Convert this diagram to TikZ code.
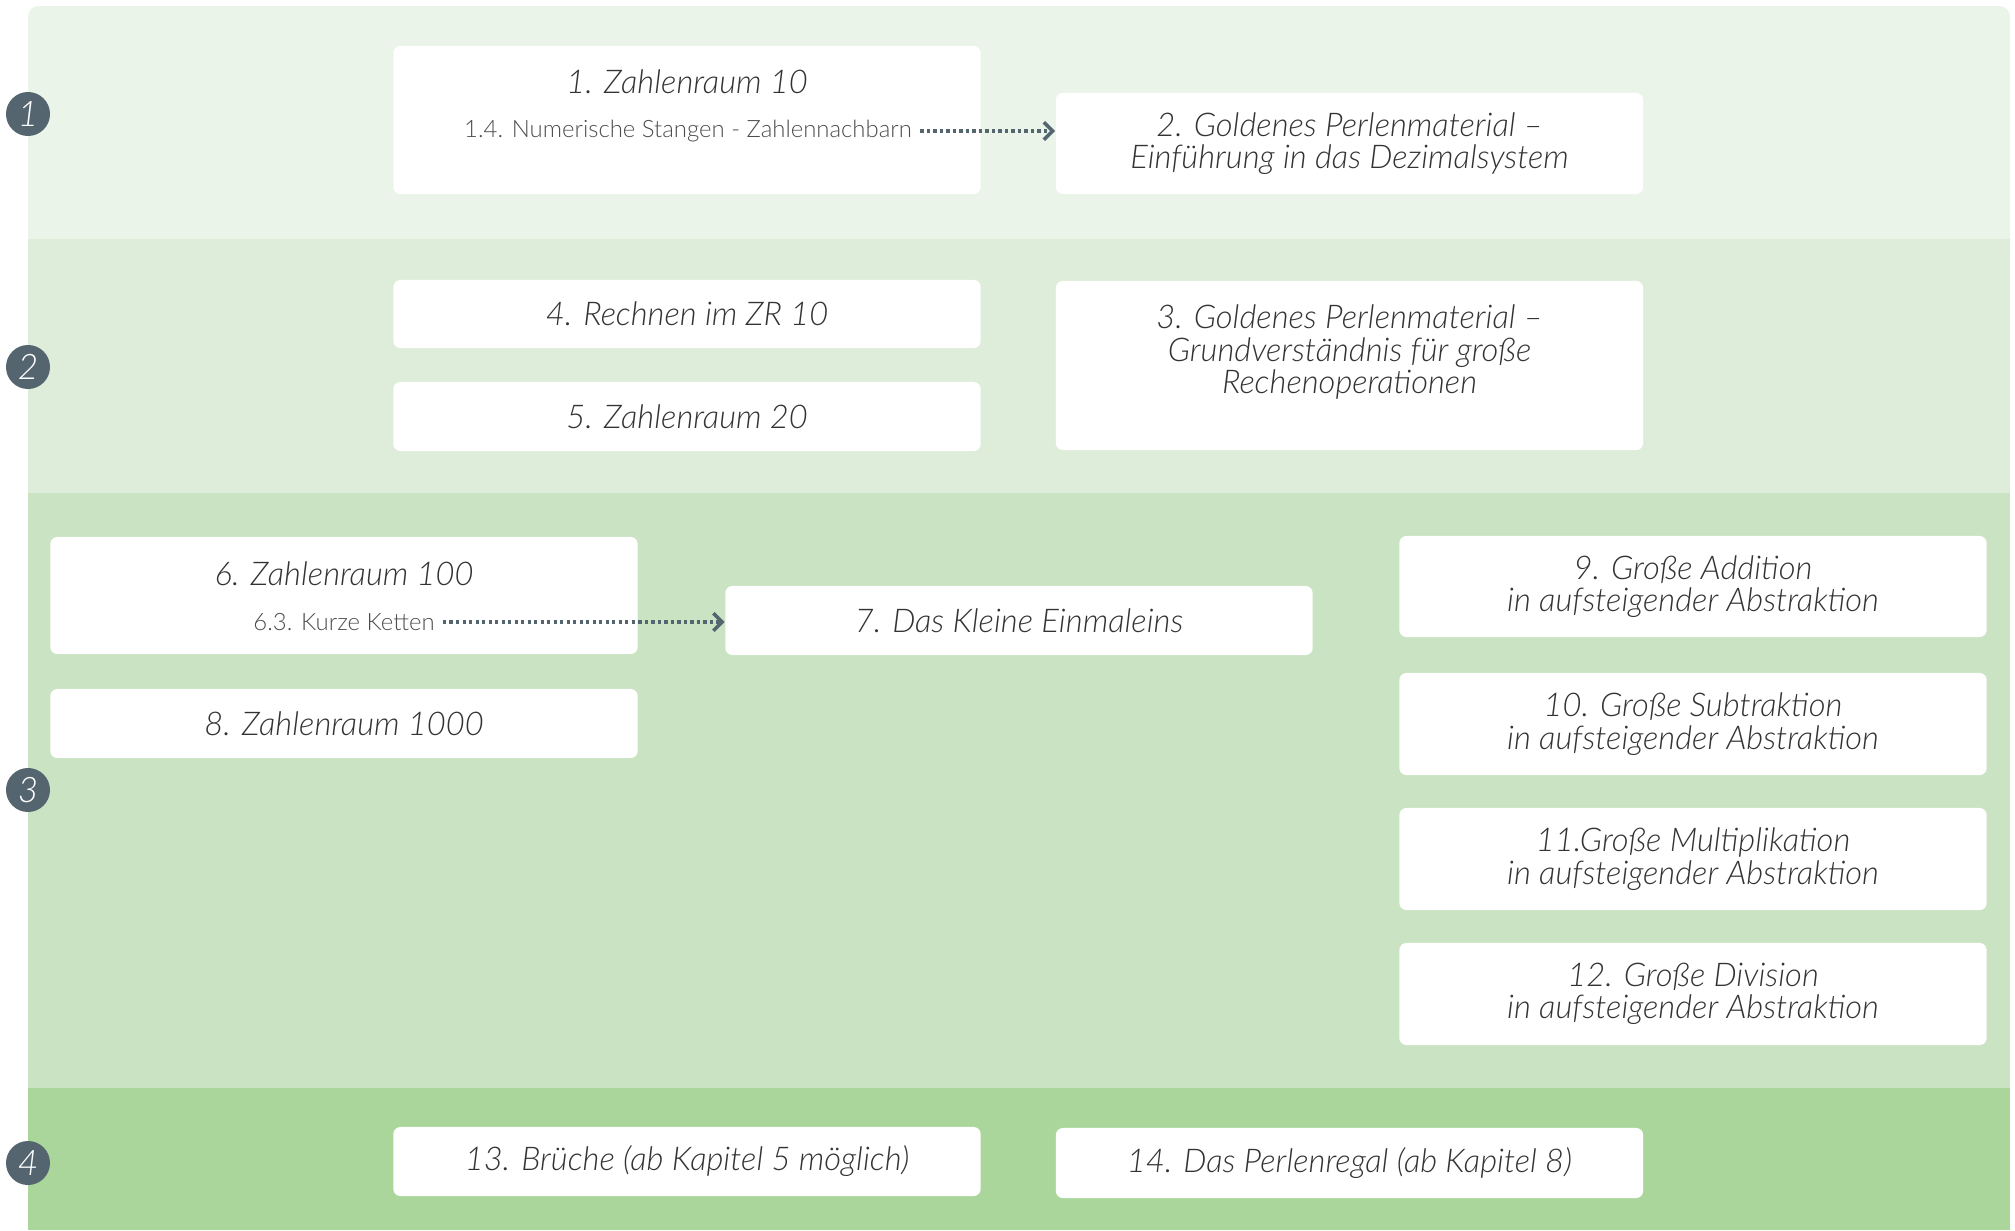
\documentclass[tikz,border=0pt]{standalone}
\usepackage{fontspec}
\setmainfont{Lato}[UprightFont=* Light, ItalicFont=* Light Italic, BoldFont=* Bold]
\usetikzlibrary{arrows.meta}
\definecolor{stufeA}{HTML}{EAF4E8}
\definecolor{stufeB}{HTML}{DEEDD9}
\definecolor{stufeC}{HTML}{CAE3C2}
\definecolor{stufeD}{HTML}{AAD69C}
\definecolor{schiefer}{HTML}{546570}
\definecolor{schrift}{HTML}{333333}
\definecolor{untertext}{HTML}{4D4D4D}
\tikzset{
  kapitel/.style={fill=white,rounded corners=2pt,minimum width=5.87cm,inner sep=0pt,
    align=center,text=schrift,font=\fontsize{9.3}{9.2}\selectfont\itshape},
  titel/.style={text=schrift,font=\fontsize{9.3}{9.2}\selectfont\itshape,inner sep=0pt},
  unterpunkt/.style={text=untertext,font=\fontsize{6.8}{8}\selectfont,inner sep=0pt},
  stufe/.style={circle,fill=schiefer,text=white,minimum size=0.44cm,inner sep=0pt,
    font=\fontsize{10}{10}\selectfont\itshape},
  pfeil/.style={schiefer,line width=0.95pt,dash pattern=on 0.95pt off 0.9pt,
    shorten <=2.2pt,-{Straight Barb[length=2.5pt,width=5pt,line width=1pt]}}
}
\begin{document}
\begin{tikzpicture}[x=0.01cm,y=-0.01cm]
\useasboundingbox (0,0) rectangle (2015,1230);
% Stufen
\fill[stufeA,rounded corners=3pt] (28,6) rectangle (2010,260);
\fill[stufeB] (28,239) rectangle (2010,493);
\fill[stufeC] (28,493) rectangle (2010,1088);
\fill[stufeD] (28,1088) rectangle (2010,1230);
\node[stufe] (n1) at (28,114) {1};
\node[stufe] (n2) at (28,367) {2};
\node[stufe] (n3) at (28,790) {3};
\node[stufe] (n4) at (28,1163) {4};
% Stufe 1
\node[kapitel,minimum height=1.48cm] (k1) at (687,120) {};
\node[titel] (t1) at (687,82) {1. Zahlenraum 10};
\node[unterpunkt] (s1) at (688,131) {1.4. Numerische Stangen - Zahlennachbarn};
\node[kapitel,minimum height=1.01cm] (k2) at (1349.5,143.5) {2. Goldenes Perlenmaterial --\\Einführung in das Dezimalsystem};
\draw[pfeil] (s1.east) -- (s1.east -| k2.west);
% Stufe 2
\node[kapitel,minimum height=0.68cm] (k4) at (687,314) {4. Rechnen im ZR 10};
\node[kapitel,minimum height=0.69cm] (k5) at (687,416.5) {5. Zahlenraum 20};
\node[kapitel,minimum height=1.69cm] (k3) at (1349.5,365.5) {};
\node[titel,align=center] (t3) at (1349.5,352) {3. Goldenes Perlenmaterial --\\Grundverständnis für große\\Rechenoperationen};
% Stufe 3
\node[kapitel,minimum height=1.17cm] (k6) at (344,595.5) {};
\node[titel] (t6) at (344,574) {6. Zahlenraum 100};
\node[unterpunkt] (s6) at (344,622) {6.3. Kurze Ketten};
\node[kapitel,minimum height=0.69cm] (k7) at (1019,620.5) {7. Das Kleine Einmaleins};
\node[kapitel,minimum height=0.69cm] (k8) at (344,723.5) {8. Zahlenraum 1000};
\draw[pfeil] (s6.east) -- (s6.east -| k7.west);
\node[kapitel,minimum height=1.01cm] (k9) at (1693,586.5) {9. Große Addition\\in aufsteigender Abstraktion};
\node[kapitel,minimum height=1.02cm] (k10) at (1693,724) {10. Große Subtraktion\\in aufsteigender Abstraktion};
\node[kapitel,minimum height=1.02cm] (k11) at (1693,859) {11.Große Multiplikation\\in aufsteigender Abstraktion};
\node[kapitel,minimum height=1.02cm] (k12) at (1693,994) {12. Große Division\\in aufsteigender Abstraktion};
% Stufe 4
\node[kapitel,minimum height=0.69cm] (k13) at (687,1161.5) {13. Brüche (ab Kapitel 5 möglich)};
\node[kapitel,minimum height=0.70cm] (k14) at (1349.5,1163) {14. Das Perlenregal (ab Kapitel 8)};
\end{tikzpicture}
\end{document}
